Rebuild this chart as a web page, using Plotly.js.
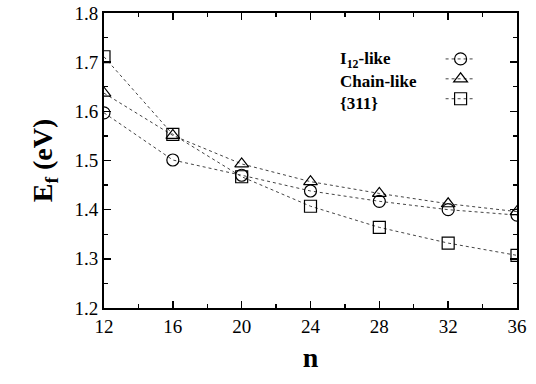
<!DOCTYPE html>
<html><head><meta charset="utf-8">
<script src="https://cdn.plot.ly/plotly-3.0.1.min.js"></script>
</head><body style="margin:0;background:#fff"><div id="chart" style="width:536px;height:384px"></div>
<script>
const nValues = [12, 16, 20, 24, 28, 32, 36];
const seriesNames = ["I<sub>12</sub>-like", "Chain-like", "{311}"];
const i12Like = [1.597, 1.501, 1.470, 1.438, 1.417, 1.400, 1.389];
const chainLike = [1.637, 1.551, 1.493, 1.457, 1.433, 1.412, 1.396];
const s311 = [1.711, 1.553, 1.467, 1.407, 1.364, 1.332, 1.307];
const symbols = ["circle-open", "triangle-up-open", "square-open"];
const seriesValues = [i12Like, chainLike, s311];

const serif = "Liberation Serif";
const traces = seriesValues.map((vals, i) => ({
  x: nValues, y: vals, type: "scatter", mode: "lines+markers", name: "\u00a0",
  line: {color: "#444", width: 1, dash: "dot"},
  marker: {symbol: symbols[i], size: 12, color: "#000", line: {color: "#000", width: 1.2}}
}));

const annotations = seriesNames.map((t, i) => ({
  text: t, xref: "paper", yref: "paper", x: 0.566, y: 0.842 - i * 0.0745,
  xanchor: "left", yanchor: "middle", showarrow: false,
  font: {family: serif, size: 17, color: "#000", weight: "bold"}
}));

Plotly.newPlot("chart", traces, {
  width: 536, height: 384,
  margin: {l: 104, r: 19, t: 13, b: 76},
  font: {family: serif, color: "#000"},
  showlegend: true,
  legend: {x: 0.815, y: 0.895, xanchor: "left", yanchor: "top", bgcolor: "rgba(0,0,0,0)",
    font: {family: serif, size: 13}},
  xaxis: {
    showline: true, linecolor: "#000", linewidth: 2, mirror: "ticks", ticks: "inside",
    ticklen: 7, tickwidth: 1.5, tickcolor: "#000", showgrid: false, zeroline: false,
    tickfont: {family: serif, size: 19, color: "#000"},
    range: [12, 36], tickvals: nValues, ticktext: nValues.map(String),
    minor: {dtick: 2, tick0: 12, ticks: "inside", ticklen: 4, tickwidth: 1.2, tickcolor: "#000"},
    title: {text: "n", font: {family: serif, size: 28, color: "#000", weight: "bold"}, standoff: 12}
  },
  yaxis: {
    showline: true, linecolor: "#000", linewidth: 2, mirror: "ticks", ticks: "inside",
    ticklen: 7, tickwidth: 1.5, tickcolor: "#000", showgrid: false, zeroline: false,
    tickfont: {family: serif, size: 19, color: "#000"},
    range: [1.2, 1.8], dtick: 0.1, tick0: 1.2, tickformat: ".1f",
    minor: {dtick: 0.05, ticks: "inside", ticklen: 4, tickwidth: 1.2, tickcolor: "#000"},
    title: {text: "E<sub>f</sub> (eV)", font: {family: serif, size: 28, color: "#000", weight: "bold"}, standoff: 14}
  },
  annotations: annotations
}, {displayModeBar: false, staticPlot: true});
</script></body></html>
